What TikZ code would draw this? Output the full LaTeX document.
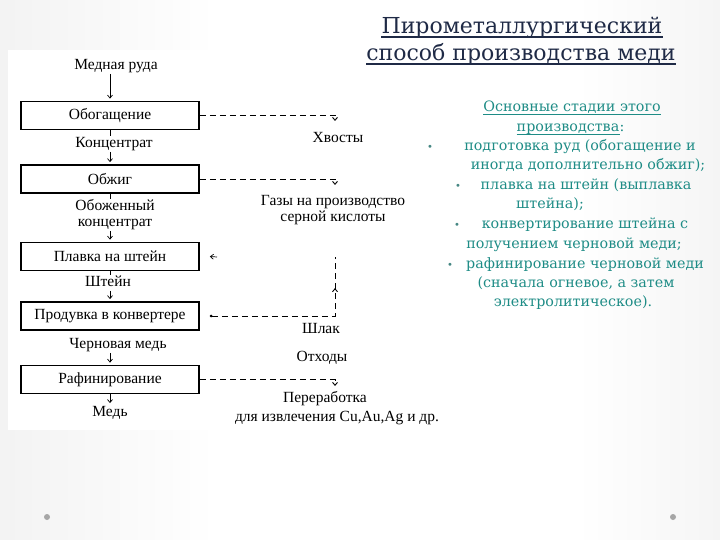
\documentclass[tikz,border=0pt]{standalone}
\usepackage{fontspec}
\setmainfont{Liberation Serif}
\newfontfamily\slidefont{DejaVu Serif}
\usetikzlibrary{arrows.meta,calc,positioning,decorations.markings}

\definecolor{titleblue}{RGB}{31,42,70}
\definecolor{stagegreen}{RGB}{30,140,134}
\definecolor{slidegray}{RGB}{200,200,200}
\definecolor{slidelight}{RGB}{232,232,232}
\pgfdeclarehorizontalshading{slideshade}{100bp}{color(0bp)=(slidegray); color(12bp)=(slidelight);
  color(40bp)=(white); color(65bp)=(white); color(88bp)=(slidelight); color(100bp)=(slidegray!90!white)}

\begin{document}
\begin{tikzpicture}[x=1pt,y=-1pt,
stage/.style={draw,line width=1.8pt,minimum width=178pt,minimum height=28pt,inner sep=0pt,
  font=\fontsize{15.5}{17}\selectfont},
flowtext/.style={inner sep=1pt,text height=10.5pt,text depth=3pt,font=\fontsize{15.5}{17}\selectfont},
flowlines/.style={inner sep=1pt,align=center,font=\fontsize{15.5}{16}\selectfont},
flow/.style={line width=0.7pt,-{Straight Barb[length=3pt,width=5pt]},shorten >=2pt},
feed/.style={line width=0.7pt},
waste/.style={line width=0.9pt,dash pattern=on 6pt off 4pt,-{Straight Barb[length=3pt,width=5pt]}},
heading/.style={anchor=base,inner sep=0pt,text=titleblue,font=\slidefont\fontsize{22}{26}\selectfont},
point/.style={anchor=base,inner sep=0pt,text=stagegreen,font=\slidefont\fontsize{14.3}{19}\selectfont},
pointdot/.style={anchor=base,text=stagegreen!60!gray,font=\slidefont\fontsize{10}{12}\selectfont},
]
\useasboundingbox (0,0) rectangle (720,540);
\shade[shading=slideshade] (0,0) rectangle (720,540);
\fill[white] (8,50) rectangle (447,430);
\fill[gray!70] (47,517) circle (3pt);
\fill[gray!70] (673,517) circle (3pt);

% title
\node[heading] (title1) at (522,34) {Пирометаллургический};
\node[heading] (title2) at (521,61) {способ производства меди};
\draw[titleblue,line width=1.4pt] ([yshift=-3pt]title1.base west) -- ([yshift=-3pt]title1.base east);
\draw[titleblue,line width=1.4pt] ([yshift=-3pt]title2.base west) -- ([yshift=-3pt]title2.base east);

% stages on the right
\node[point] (p1) at (572,112) {Основные стадии этого};
\node[point] (p2) at (568,131.5) {производства};
\node[point,anchor=base west] (p2colon) at (p2.base east) {:};
\draw[stagegreen,line width=0.8pt] ([yshift=-2.5pt]p1.base west) -- ([yshift=-2.5pt]p1.base east);
\draw[stagegreen,line width=0.8pt] ([yshift=-2.5pt]p2.base west) -- ([yshift=-2.5pt]p2.base east);
\node[pointdot] (d3) at (430,151) {•};
\node[point] (p3) at (580,151) {подготовка руд (обогащение и};
\node[point] (p4) at (588,170) {иногда дополнительно обжиг);};
\node[pointdot] (d5) at (458,190) {•};
\node[point] (p5) at (586,190) {плавка на штейн (выплавка};
\node[point] (p6) at (550,209) {штейна);};
\node[pointdot] (d7) at (457,229) {•};
\node[point] (p7) at (585,229) {конвертирование штейна с};
\node[point] (p8) at (574,248) {получением черновой меди;};
\node[pointdot] (d9) at (450,268) {•};
\node[point] (p9) at (585,268) {рафинирование черновой меди};
\node[point] (p10) at (576,287) {(сначала огневое, а затем};
\node[point] (p11) at (573,306) {электролитическое).};

% flow sheet
\node[flowtext] (ore) at (116,66) {Медная руда};
\node[stage] (enrich) at (110,115.5) {Обогащение};
\node[flowtext] (conc) at (114,144) {Концентрат};
\node[stage] (roast) at (110,179) {Обжиг};
\node[flowlines] (calcine) at (115,215) {Обоженный\\концентрат};
\node[stage] (smelt) at (110,256.5) {Плавка на штейн};
\node[flowtext] (matte) at (108,283) {Штейн};
\node[stage] (convert) at (110,316) {Продувка в конвертере};
\node[flowtext] (blister) at (118,345) {Черновая медь};
\node[stage] (refine) at (110,379.5) {Рафинирование};
\node[flowtext] (copper) at (110,413) {Медь};

\node[flowtext] (tails) at (338,139) {Хвосты};
\node[flowlines] (gases) at (333,210) {Газы на производство\\серной кислоты};
\node[flowtext] (slag) at (321,330) {Шлак};
\node[flowtext] (scrap) at (322,358) {Отходы};
\node[flowtext] (rework) at (325,399) {Переработка};
\node[flowtext] (rework2) at (337,418) {для извлечения Cu,Au,Ag и др.};

\draw[flow] (enrich.north |- ore.south) -- (enrich.north);
\draw[feed] (enrich.south) -- (enrich.south |- conc.north);
\draw[flow] (roast.north |- conc.south) -- (roast.north);
\draw[feed] (roast.south) -- (roast.south |- calcine.north);
\draw[flow] (smelt.north |- calcine.south) -- (smelt.north);
\draw[feed] (smelt.south) -- (smelt.south |- matte.north);
\draw[flow] (convert.north |- matte.south) -- (convert.north);
\draw[flow] (refine.north |- blister.south) -- (refine.north);
\draw[flow] (refine.south) -- (copper.north);

% wastes
\coordinate (tailsin) at (335,121);
\coordinate (gasesin) at (335,185);
\coordinate (reworkin) at (335,386);
\coordinate (slagtop) at (335,257);
\coordinate (slagret) at (217,257);
\draw[waste] (enrich.east) -| (tailsin);
\draw[waste] (roast.east) -| (gasesin);
\draw[waste] (refine.east) -| (reworkin);
\draw[waste,{Circle[length=2.5pt]}-,shorten <=10pt,postaction={decorate},
  decoration={markings,mark=at position 0.84 with {\arrow{Straight Barb[length=3pt,width=5pt]}}}]
  (convert.east) -| (slagtop);
\draw[line width=0.7pt,-{Straight Barb[length=3pt,width=5pt]}] (slagret) -- ([xshift=10pt]smelt.east);
\end{tikzpicture}
\end{document}
